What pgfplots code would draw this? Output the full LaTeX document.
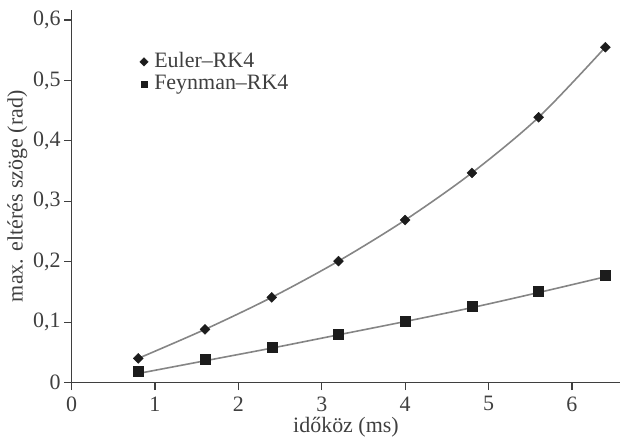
\documentclass[border=0pt]{standalone}
\usepackage{pgfplots}
\pgfplotsset{compat=1.18}
\usepackage{fontspec}
\setmainfont{Liberation Serif}

\definecolor{axisgray}{HTML}{3F3F3F}
\definecolor{fitgray}{HTML}{858585}
\definecolor{markblack}{HTML}{1C1C1C}

\begin{document}
\fontsize{22}{26}\selectfont
\begin{tikzpicture}
\begin{axis}[
    scale only axis,
    width=548bp, height=372bp,
    xmin=0, xmax=6.58,
    ymin=0, ymax=0.6166,
    axis x line=bottom, axis y line=left,
    axis line style={-, axisgray, line width=1.3pt},
    tick style={axisgray, line width=1.1pt},
    tick align=outside,
    major tick length=7.5bp,
    xtick={0,1,2,3,4,5,6},
    ytick={0,0.1,0.2,0.3,0.4,0.5,0.6},
    /pgf/number format/assume math mode=true,
    /pgf/number format/use comma,
    /pgf/number format/fixed,
    /pgf/number format/precision=1,
    ticklabel style={font=\fontsize{22}{26}\selectfont, text=axisgray},
    yticklabel style={xshift=4bp},
    xticklabel style={yshift=1bp},
    label style={font=\fontsize{22}{26}\selectfont, text=axisgray},
    xlabel={időköz (ms)},
    ylabel={max. eltérés szöge (rad)},
    xlabel style={yshift=9bp},
    ylabel style={yshift=-9bp},
    legend cell align=left,
    legend style={draw=none, fill=none, at={(axis cs:0.78,0.553)}, anchor=north west,
        font=\fontsize{22}{26}\selectfont, text=axisgray, row sep=0bp},
    legend image code/.code={%
        \draw[#1, mark size=3bp] plot coordinates {(0cm,0cm)};
        \path (8bp,0bp);},
]
% Euler–RK4 fit curve
\addplot[fitgray, line width=1.6pt, smooth, forget plot] coordinates {
    (0.8,0.040) (1.6,0.088) (2.4,0.141) (3.2,0.201)
    (4.0,0.269) (4.8,0.347) (5.6,0.439) (6.4,0.555)
};
% Feynman–RK4 fit curve
\addplot[fitgray, line width=1.6pt, smooth, forget plot] coordinates {
    (0.8,0.015) (1.6,0.036) (2.4,0.057) (3.2,0.079)
    (4.0,0.101) (4.8,0.124) (5.6,0.149) (6.4,0.175)
};
\addplot[only marks, mark=square*, mark size=3.5bp, markblack,
    mark options={rotate=45, markblack}] coordinates {
    (0.8,0.040) (1.6,0.088) (2.4,0.141) (3.2,0.201)
    (4.0,0.269) (4.8,0.347) (5.6,0.439) (6.4,0.555)
};
\addlegendentry{Euler--RK4}
\addplot[only marks, mark=square*, mark size=5bp, markblack,
    mark options={markblack}] coordinates {
    (0.8,0.019) (1.6,0.038) (2.4,0.059) (3.2,0.080)
    (4.0,0.101) (4.8,0.127) (5.6,0.151) (6.4,0.178)
};
\addlegendentry{Feynman--RK4}
\end{axis}
\path ([yshift=10bp]current axis.north west);
\end{tikzpicture}
\end{document}
